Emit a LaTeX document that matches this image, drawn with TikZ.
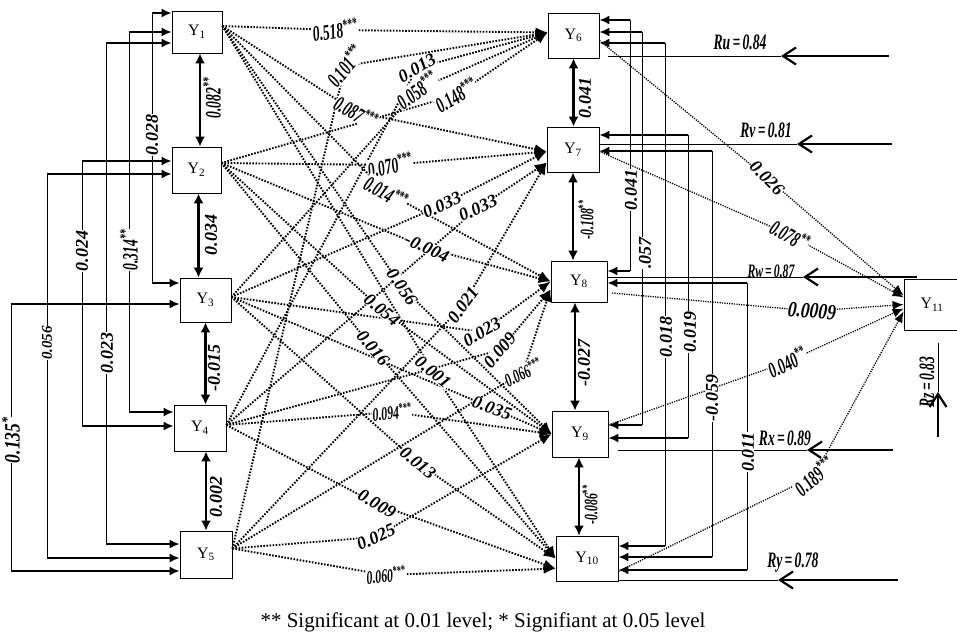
\documentclass[tikz,border=0pt]{standalone}
\usepackage{fontspec}
\setmainfont{Liberation Serif}
\usetikzlibrary{arrows.meta}
\newcommand\cnd[1]{\scalebox{0.62}[1]{#1}}
\newcommand\st[1]{\textsuperscript{#1}}
\begin{document}
\begin{tikzpicture}[x=1pt,y=-1pt]
\tikzset{
 box/.style={draw, line width=0.8pt, inner sep=0pt, font=\fontsize{16}{16}\selectfont},
 hz/.style={line width=1.8pt, -{Latex[length=10pt,width=9pt]}},
 vt/.style={line width=0.8pt},
 dbl/.style={line width=2.2pt, {Latex[length=10pt,width=10pt]}-{Latex[length=10pt,width=10pt]}},
 dot/.style={line width=1.9pt, dash pattern=on 1.6pt off 1.5pt, -{Latex[length=12pt,width=10pt]}},
 dotr/.style={line width=1.3pt, dash pattern=on 1.2pt off 1.2pt, -{Latex[length=11pt,width=9pt]}},
 rthick/.style={line width=2.2pt, -{Straight Barb[length=13pt,width=17pt]}},
 rthin/.style={line width=0.9pt},
 lb/.style={font=\bfseries\itshape\fontsize{18}{18}\selectfont, fill=white, inner sep=0.3pt},
 lm/.style={font=\bfseries\itshape\fontsize{15}{15}\selectfont, fill=white, inner sep=0.3pt},
 lc/.style={font=\bfseries\itshape\fontsize{22}{22}\selectfont, fill=white, inner sep=0.3pt},
 ls/.style={font=\bfseries\itshape\fontsize{19}{19}\selectfont, fill=white, inner sep=0.3pt},
}
\fill[white] (0,0) rectangle (957,640);
\useasboundingbox (0,0) rectangle (957,640);

% boxes
\node[box, minimum width=50pt, minimum height=42pt] (Y1) at (197,32) {Y\textsubscript{1}};
\node[box, minimum width=49pt, minimum height=46pt] (Y2) at (196.5,170) {Y\textsubscript{2}};
\node[box, minimum width=51pt, minimum height=44pt] (Y3) at (205.5,300) {Y\textsubscript{3}};
\node[box, minimum width=52pt, minimum height=46pt] (Y4) at (200,428) {Y\textsubscript{4}};
\node[box, minimum width=52pt, minimum height=47pt] (Y5) at (206,554.5) {Y\textsubscript{5}};
\node[box, minimum width=51pt, minimum height=45pt] (Y6) at (573.5,35.5) {Y\textsubscript{6}};
\node[box, minimum width=52pt, minimum height=45pt] (Y7) at (573,149.5) {Y\textsubscript{7}};
\node[box, minimum width=56pt, minimum height=41pt] (Y8) at (579,281.5) {Y\textsubscript{8}};
\node[box, minimum width=56pt, minimum height=46pt] (Y9) at (580,434) {Y\textsubscript{9}};
\node[box, minimum width=62pt, minimum height=45pt] (Y10) at (587,558.5) {Y\textsubscript{10}};
\node[box, minimum width=56pt, minimum height=51pt] (Y11) at (932,304.5) {Y\textsubscript{11}};

% left brackets
\foreach \n/\x/\ya/\A/\yb/\B in {a/152/13/Y1/283/Y3, b/129/32/Y1/412/Y4, c/106/43/Y1/544/Y5, d/82/161/Y2/426/Y4, e/47/174/Y2/558/Y5, f/11/304/Y3/571/Y5}{
 \coordinate (L\n1) at (\x,\ya);
 \coordinate (L\n2) at (\x,\yb);
 \draw[vt] (L\n1) -- (L\n2);
 \draw[hz] (L\n1) -- (L\n1 -| \A.west);
 \draw[hz] (L\n2) -- (L\n2 -| \B.west);
}
% right brackets
\foreach \n/\x/\ya/\A/\yb/\B in {a/630/20/Y6/271/Y8, b/642/32/Y6/425/Y9, c/665/43/Y6/546/Y10, d/688/135/Y7/438/Y9, e/712/151/Y7/557/Y10, f/747/283/Y8/570/Y10}{
 \coordinate (R\n1) at (\x,\ya);
 \coordinate (R\n2) at (\x,\yb);
 \draw[vt] (R\n1) -- (R\n2);
 \draw[hz] (R\n1) -- (R\n1 -| \A.east);
 \draw[hz] (R\n2) -- (R\n2 -| \B.east);
}

% adjacent double arrows
\draw[dbl] ([xshift=3pt]Y1.south) -- ([xshift=3pt]Y1.south |- Y2.north);
\draw[dbl] ([xshift=2pt]Y2.south) -- ([xshift=2pt]Y2.south |- Y3.north);
\draw[dbl] (Y3.south) -- (Y3.south |- Y4.north);
\draw[dbl] (Y5.north) -- (Y5.north |- Y4.south);
\draw[dbl] (Y6.south) -- (Y6.south |- Y7.north);
\draw[dbl] (Y7.south) -- (Y7.south |- Y8.north);
\draw[dbl] ([xshift=-4pt]Y8.south) -- ([xshift=-4pt]Y8.south |- Y9.north);
\draw[dbl] ([xshift=-1pt]Y9.south) -- ([xshift=-1pt]Y9.south |- Y10.north);

% sources and targets of the dotted paths
\coordinate (s1) at ([yshift=6pt]Y1.east);
\coordinate (s2) at ([yshift=7pt]Y2.east);
\coordinate (s3) at ([yshift=3pt]Y3.east);
\coordinate (s4) at ([yshift=3pt]Y4.east);
\coordinate (s5) at ([yshift=6pt]Y5.east);
\coordinate (t6) at ([yshift=3pt]Y6.west);
\coordinate (t7) at ([yshift=-2pt]Y7.west);
\coordinate (t7b) at ([yshift=-13pt]Y7.west);
\coordinate (t8) at (Y8.west);
\coordinate (t8b) at ([yshift=-8pt]Y8.west);
\coordinate (t9) at (Y9.west);
\coordinate (t10) at (Y10.west);
\coordinate (t10b) at ([yshift=-10pt]Y10.west);

\foreach \k/\s/\t/\x/\y in {1/s1/t6/335/30, 2/s5/t6/345/66, 3/s4/t6/417/68, 4/s3/t6/417/90, 5/s2/t6/456/95,
 6/s1/t7/356/112, 7/s2/t7/390/165, 8/s3/t7/442/205, 9/s4/t7b/478/208, 10/s5/t7b/463/305,
 11/s1/t8/386/192, 12/s2/t8/427/248, 13/s3/t8/482/332, 14/s4/t8b/500/350, 15/s5/t8b/523/372,
 16/s1/t9/402/287, 17/s2/t9/382/310, 18/s3/t9/492/408, 19/s4/t9/392/412, 20/s5/t9/376/537,
 21/s1/t10/433/372, 22/s2/t10/373/348, 23/s3/t10/418/463, 24/s4/t10b/377/504, 25/s5/t10b/386/575}{
 \coordinate (m\k) at (\x,\y);
 \draw[dot] (\s) -- (m\k) -- (\t);
}

% paths to Y11
\coordinate (u6) at ([yshift=-5pt]Y6.east);
\coordinate (u7) at ([yshift=-2pt]Y7.east);
\coordinate (u8) at (612,293);
\coordinate (u9) at ([yshift=9pt]Y9.east);
\coordinate (u10) at ([yshift=-13pt]Y10.east);
\coordinate (n6) at (767,178);
\coordinate (n7) at (790,235);
\coordinate (n8) at (812,311);
\coordinate (n9) at (787,362);
\coordinate (n10) at (814,476);
\draw[dotr] (u6) -- (n6) -- ([yshift=9pt]Y11.west);
\draw[dotr] (u7) -- (n7) -- ([yshift=7pt]Y11.west);
\draw[dotr] (u8) -- (n8) -- ([yshift=0pt]Y11.west);
\draw[dotr] (u9) -- (n9) -- ([yshift=-4pt]Y11.west);
\draw[dotr] (u10) -- (n10) -- ([yshift=-7pt]Y11.west);

% residual arrows
\coordinate (ru1) at (889,56); \coordinate (ru2) at (781,56); \coordinate (ru3) at (608,56);
\draw[rthick] (ru1) -- (ru2); \draw[rthin] (ru2) -- (ru3);
\coordinate (rv1) at (892,144); \coordinate (rv2) at (797,144);
\draw[rthick] (rv1) -- (rv2); \draw[rthin] (rv2) -- (rv2 -| Y7.east);
\coordinate (rw1) at (917,277); \coordinate (rw2) at (803,277);
\draw[rthick] (rw1) -- (rw2); \draw[rthin] (rw2) -- (rw2 -| Y8.east);
\coordinate (rx1) at (893,450); \coordinate (rx2) at (807,450); \coordinate (rx3) at (618,450);
\draw[rthick] (rx1) -- (rx2); \draw[rthin] (rx2) -- (rx3);
\coordinate (ry1) at (898,580); \coordinate (ry2) at (778,580);
\draw[rthick] (ry1) -- (ry2); \draw[rthin] (ry2) -- (ry2 -| Y10.east);
\coordinate (rz1) at (938,437); \coordinate (rz2) at (938,392); \coordinate (rz3) at (938,343);
\draw[rthick] (rz1) -- (rz2); \draw[rthin] (rz2) -- (rz3);

% residual labels
\node[lc, fill=none] (tru) at (740,42) {\cnd{Ru\,=\,0.84}};
\node[lc, fill=none] (trv) at (766,130) {\cnd{Rv\,=\,0.81}};
\node[ls, fill=none] (trw) at (771,271) {\cnd{Rw\,=\,0.87}};
\node[lc, fill=none] (trx) at (785,438) {\cnd{Rx\,=\,0.89}};
\node[lc, fill=none] (try) at (793,563) {\cnd{Ry\,=\,0.78}};
\node[lc, fill=none, rotate=90] (trz) at (927,382) {\cnd{Rz\,=\,0.83}};

% middle labels
\node[lc, rotate=8] (l1) at (m1) {\cnd{0.518\st{***}}};
\node[lc, rotate=50] (l2) at (m2) {\cnd{0.101\st{***}}};
\node[lb, rotate=30] (l3) at (m3) {0.013};
\node[lc, rotate=35] (l4) at (m4) {\cnd{0.058\st{***}}};
\node[lc, rotate=30] (l5) at (m5) {\cnd{0.148\st{***}}};
\node[lc, rotate=-30] (l6) at (m6) {\cnd{0.087\st{***}}};
\node[lc, rotate=12] (l7) at (m7) {\cnd{0.070\st{***}}};
\node[lb, rotate=25] (l8) at (m8) {0.033};
\node[lb, rotate=25] (l9) at (m9) {0.033};
\node[lb, rotate=55] (l10) at (m10) {0.021};
\node[lc, rotate=-30] (l11) at (m11) {\cnd{0.014\st{***}}};
\node[lb, rotate=-25] (l12) at (m12) {-0.004};
\node[lb, rotate=30] (l13) at (m13) {0.023};
\node[lb, rotate=50] (l14) at (m14) {0.009};
\node[ls, rotate=25] (l15) at (m15) {\cnd{0.066\st{***}}};
\node[lb, rotate=-55] (l16) at (m16) {0.056};
\node[lb, rotate=-40] (l17) at (m17) {0.054};
\node[lb, rotate=-20] (l18) at (m18) {0.035};
\node[ls, rotate=5] (l19) at (m19) {\cnd{0.094\st{***}}};
\node[lb, rotate=25] (l20) at (m20) {0.025};
\node[lb, rotate=-40] (l21) at (m21) {0.001};
\node[lb, rotate=-50] (l22) at (m22) {0.016};
\node[lb, rotate=-40] (l23) at (m23) {0.013};
\node[lb, rotate=-30] (l24) at (m24) {0.009};
\node[ls, rotate=5] (l25) at (m25) {\cnd{0.060\st{***}}};

% Y11 path labels
\node[lb, rotate=-45] (k6) at (n6) {0.026};
\node[lc, rotate=-30] (k7) at (n7) {\cnd{0.078\st{**}}};
\node[lc, rotate=-5] (k8) at (n8) {\scalebox{0.8}[1]{0.0009}};
\node[lc, rotate=25] (k9) at (n9) {\cnd{0.040\st{**}}};
\node[lc, rotate=40] (k10) at (n10) {\cnd{0.189\st{***}}};

% left bracket labels
\node[lb, rotate=90] (ba) at (152,135) {0.028};
\node[lc, rotate=90] (bb) at (129,250) {\cnd{0.314\st{**}}};
\node[lb, rotate=90] (bc) at (107,353) {0.023};
\node[lb, rotate=90] (bd) at (82,251) {0.024};
\node[lm, rotate=90] (be) at (47,343) {0.056};
\node[lc, rotate=90] (bf) at (11,440) {\scalebox{0.8}[1]{0.135\st{*}}};
% right bracket labels
\node[lb, rotate=90] (ca) at (631,190) {0.041};
\node[lb, rotate=90] (cb) at (645,253) {.057};
\node[lb, rotate=90] (cc) at (666,337) {0.018};
\node[lb, rotate=90] (cd) at (690,332) {0.019};
\node[lb, rotate=90] (ce) at (712,398) {-0.059};
\node[lb, rotate=90] (cf) at (748,452) {0.011};
% double arrow labels
\node[lc, rotate=90] (da) at (212,98) {\cnd{0.082\st{**}}};
\node[lb, rotate=90] (db) at (211,235) {0.034};
\node[lb, rotate=90] (dc) at (214,368) {-0.015};
\node[lb, rotate=90] (dd) at (216,497) {0.002};
\node[lb, rotate=90] (de) at (585,98) {0.041};
\node[ls, rotate=90] (df) at (586,220) {\cnd{-0.108\st{**}}};
\node[lb, rotate=90] (dg) at (584,363) {-0.027};
\node[ls, rotate=90] (dh) at (590,505) {\cnd{-0.086\st{**}}};

% caption
\node[font=\fontsize{21}{21}\selectfont] (cap) at (483,622) {** Significant at 0.01 level; * Signifiant at 0.05 level};
\end{tikzpicture}
\end{document}
